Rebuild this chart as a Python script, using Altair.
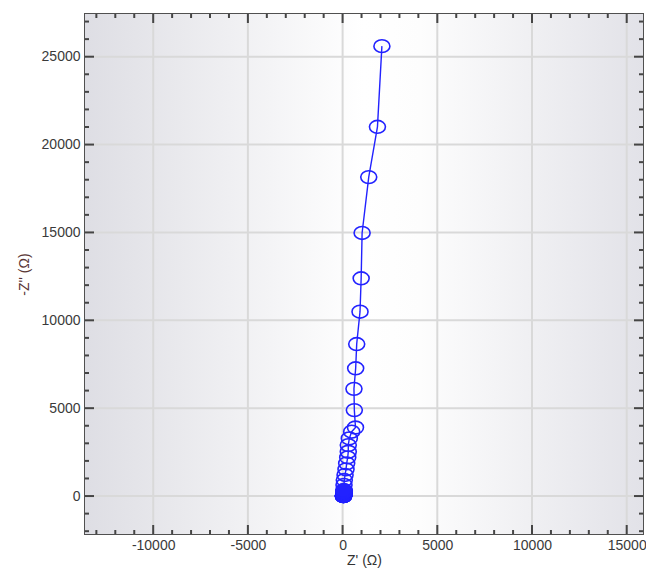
import altair as alt
import pandas as pd

# Nyquist data: Z' (real) and -Z'' (imaginary), ohms, in measurement order
z_real = [40, 42, 44, 46, 48, 50, 52, 55, 58, 60, 62, 65, 68, 70, 72, 75, 78, 80, 82, 85,
          88, 90, 70, 60, 75, 90, 130, 180, 215, 270, 300, 300, 355,
          480, 680, 620, 600, 690, 745, 920, 980, 1030, 1380, 1840, 2075]
z_imag = [0, 1, 2, 4, 6, 9, 13, 18, 24, 32, 42, 55, 70, 88, 110, 135, 160, 185, 210, 240,
          270, 300, 200, 340, 630, 910, 1200, 1520, 1860, 2200, 2520, 2900, 3280,
          3660, 3900, 4890, 6100, 7270, 8650, 10490, 12390, 14970, 18150, 21010, 25600]

x_major = [-10000, -5000, 0, 5000, 10000, 15000]
y_major = [0, 5000, 10000, 15000, 20000, 25000]
x_minor = [v for v in range(-13000, 16000, 1000) if v % 5000 != 0]
y_minor = [v for v in range(-2000, 28000, 1000) if v % 5000 != 0]

X_DOMAIN = [-13600, 15860]
Y_DOMAIN = [-2160, 27430]
W, H = 558, 520

BLUE = "#2222ff"
TICK = "#454545"
GRID = "#d9d9d9"
FONT = "Liberation Sans"

df = pd.DataFrame({"zr": z_real, "zi": z_imag, "i": list(range(len(z_real)))})
dxM = pd.DataFrame({"v": x_major})
dyM = pd.DataFrame({"v": y_major})
dxm = pd.DataFrame({"v": x_minor})
dym = pd.DataFrame({"v": y_minor})

xscale = alt.Scale(domain=X_DOMAIN, nice=False, zero=False)
yscale = alt.Scale(domain=Y_DOMAIN, nice=False, zero=False)

LABEL_EXPR = "'' + datum.value"

xaxis = alt.Axis(values=x_major, grid=False, ticks=False, domain=False,
                 title="Z' (Ω)", labelPadding=4, titlePadding=1,
                 labelExpr=LABEL_EXPR,
                 labelFontSize=14, titleFontSize=14, titleFontWeight="normal",
                 labelColor="#3a3a3a", titleColor="#333333", labelFont=FONT, titleFont=FONT)
yaxis = alt.Axis(values=y_major, grid=False, ticks=False, domain=False,
                 title="-Z'' (Ω)", labelPadding=5, titlePadding=10,
                 labelExpr=LABEL_EXPR,
                 labelFontSize=14, titleFontSize=14, titleFontWeight="normal",
                 labelColor="#3a3a3a", titleColor="#5a3636", labelFont=FONT, titleFont=FONT)


def X(field="v"):
    return alt.X(f"{field}:Q", scale=xscale, axis=xaxis)


def Y(field="v"):
    return alt.Y(f"{field}:Q", scale=yscale, axis=yaxis)


gradient = {
    "gradient": "linear", "x1": 0, "x2": 1, "y1": 0, "y2": 0,
    "stops": [
        {"offset": 0, "color": "#dedee4"},
        {"offset": 0.5, "color": "#ffffff"},
        {"offset": 0.6, "color": "#fdfdfd"},
        {"offset": 1, "color": "#e2e2e8"},
    ],
}

bg = alt.Chart(pd.DataFrame({"a": [0]})).mark_rect(fill=gradient).encode(
    x=alt.value(0), x2=alt.value(W), y=alt.value(0), y2=alt.value(H))

grid_x = alt.Chart(dxM).mark_rule(color=GRID, strokeWidth=2).encode(x=X())
grid_y = alt.Chart(dyM).mark_rule(color=GRID, strokeWidth=2).encode(y=Y())

MAJ, MIN = 9, 4
ticks = []
for data, L in ((dxM, MAJ), (dxm, MIN)):
    ticks.append(alt.Chart(data).mark_rule(color=TICK, strokeWidth=2).encode(
        x=X(), y=alt.value(H), y2=alt.value(H - L)))
    ticks.append(alt.Chart(data).mark_rule(color=TICK, strokeWidth=2).encode(
        x=X(), y=alt.value(0), y2=alt.value(L)))
for data, L in ((dyM, MAJ), (dym, MIN)):
    ticks.append(alt.Chart(data).mark_rule(color=TICK, strokeWidth=2).encode(
        y=Y(), x=alt.value(0), x2=alt.value(L)))
    ticks.append(alt.Chart(data).mark_rule(color=TICK, strokeWidth=2).encode(
        y=Y(), x=alt.value(W), x2=alt.value(W - L)))

line = alt.Chart(df).mark_line(color=BLUE, strokeWidth=1.4).encode(
    x=X("zr"), y=Y("zi"), order="i:Q")

ellipse = "M-1,0 A1,0.8 0 1,1 1,0 A1,0.8 0 1,1 -1,0 Z"
points = alt.Chart(df).mark_point(shape=ellipse, size=256, filled=False,
                                  color=BLUE, strokeWidth=1.6, opacity=1).encode(
    x=X("zr"), y=Y("zi"))

# densely overlapping high-frequency markers merge into a solid blob
blob = alt.Chart(df).transform_filter("datum.zi <= 340").mark_point(
    shape=ellipse, size=256, filled=True, color=BLUE, opacity=0.85).encode(
    x=X("zr"), y=Y("zi"))

chart = alt.layer(bg, grid_x, grid_y, *ticks, line, points, blob).properties(
    width=W, height=H,
    autosize=alt.AutoSizeParams(type="none"),
    padding={"left": 85, "top": 14, "right": 3, "bottom": 38},
    background="white",
).configure_view(stroke="#505050", strokeWidth=2)

chart.save("out.html", embed_options={"renderer": "svg", "actions": False})
